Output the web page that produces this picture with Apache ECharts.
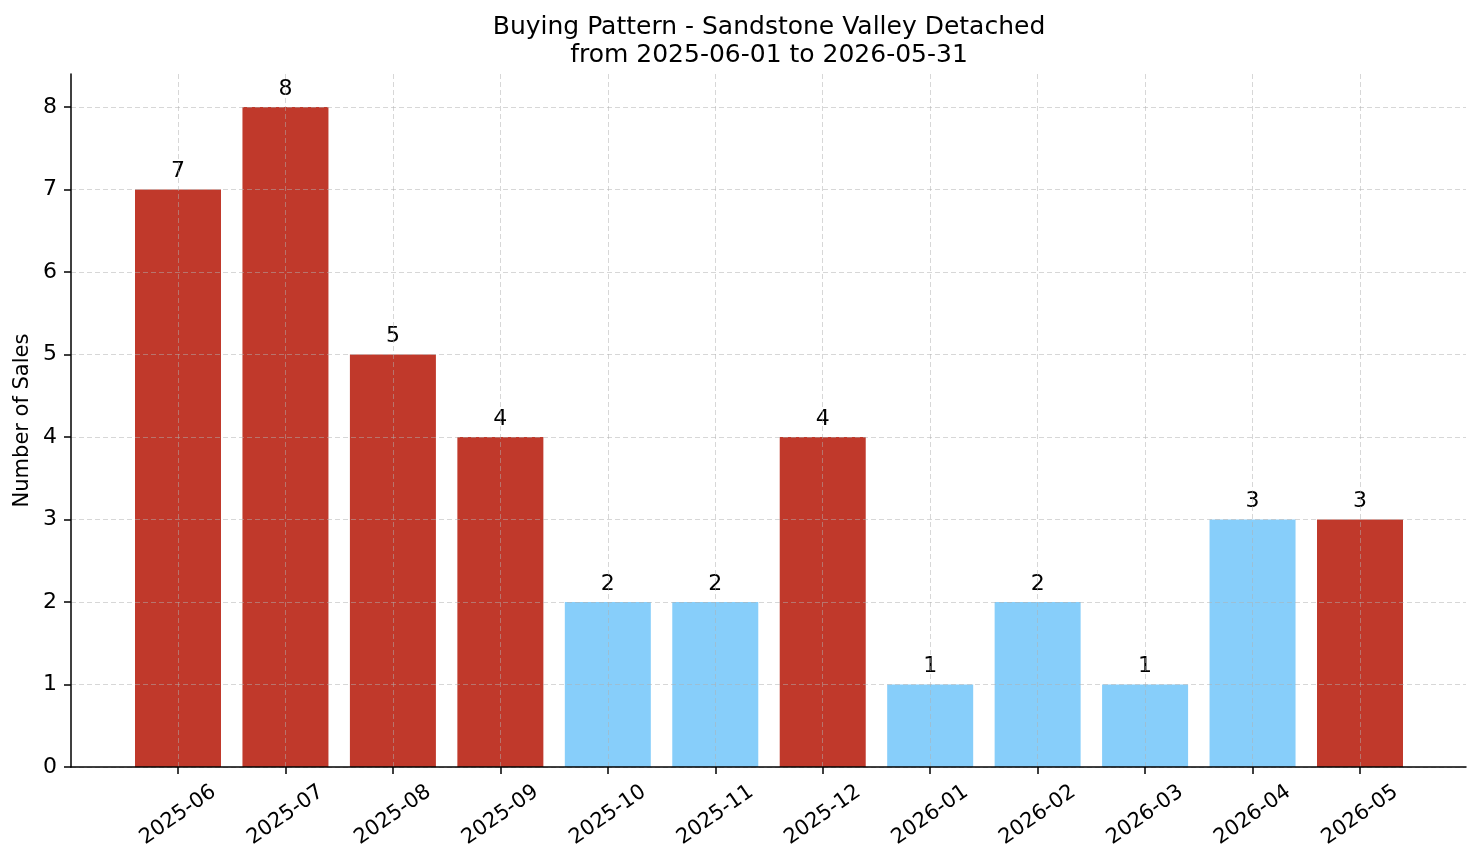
<!DOCTYPE html>
<html>
<head>
<meta charset="utf-8">
<script src="https://cdn.jsdelivr.net/npm/echarts@6/dist/echarts.min.js"></script>
<style>
html, body { margin: 0; padding: 0; background: #fff; }
#chart { width: 1481px; height: 863px; }
</style>
</head>
<body>
<div id="chart"></div>
<script>
// data
var months = ['2025-06', '2025-07', '2025-08', '2025-09', '2025-10', '2025-11',
	'2025-12', '2026-01', '2026-02', '2026-03', '2026-04', '2026-05'];
var sales = [7, 8, 5, 4, 2, 2, 4, 1, 2, 1, 3, 3];
var isHot = [true, true, true, true, false, false, true, false, false, false, false, true];
var yTickMax = 8;
var yRangeMax = 8.4;

var FONT = 'DejaVu Sans';
var RED = '#c0392b', BLUE = '#87cefa';
var gridLine = {show: true, lineStyle: {color: 'rgba(176,176,176,0.5)', width: 1, type: [5, 3]}};

var chart = echarts.init(document.getElementById('chart'));

var barData = sales.map(function (v, i) {
	return {value: v, itemStyle: {color: isHot[i] ? RED : BLUE}};
});

var option = {
	animation: false,
	textStyle: {fontFamily: FONT},
	title: {
		text: 'Buying Pattern - Sandstone Valley Detached\nfrom 2025-06-01 to 2026-05-31',
		left: 764,
		top: 8,
		textAlign: 'center',
		textStyle: {fontFamily: FONT, fontSize: 25, fontWeight: 'normal', color: '#000', lineHeight: 28}
	},
	grid: [
		// spines
		{left: 71, right: 15, top: 74, bottom: 96, outerBoundsMode: 'none'},
		// bars + category axis
		{left: 178, right: 121, top: 74, bottom: 96, outerBoundsMode: 'none'},
		// y ticks and horizontal grid
		{left: 71, right: 15, top: 107, bottom: 96, outerBoundsMode: 'none'}
	],
	xAxis: [
		{
			gridIndex: 0, type: 'value', min: 0, max: 1, z: 4,
			axisLine: {show: true, lineStyle: {color: '#000', width: 1.5}},
			axisTick: {show: false}, axisLabel: {show: false}, splitLine: {show: false}
		},
		{
			gridIndex: 1, type: 'category', data: months, boundaryGap: false, z: 3,
			axisLine: {show: false},
			axisTick: {show: true, length: 7, lineStyle: {color: '#000', width: 1.5}},
			axisLabel: {
				interval: 0, rotate: 35, align: 'center', verticalAlign: 'middle', margin: 48,
				fontFamily: FONT, fontSize: 21, color: '#000'
			},
			splitLine: gridLine
		},
		{gridIndex: 2, type: 'value', show: false}
	],
	yAxis: [
		{
			gridIndex: 0, type: 'value', min: 0, max: 1, z: 4,
			axisLine: {show: true, lineStyle: {color: '#000', width: 1.5}},
			axisTick: {show: false}, axisLabel: {show: false}, splitLine: {show: false},
			name: 'Number of Sales', nameLocation: 'middle', nameRotate: 90, nameGap: 38,
			nameTextStyle: {fontFamily: FONT, fontSize: 21, color: '#000'}
		},
		{gridIndex: 1, type: 'value', min: 0, max: yRangeMax, show: false},
		{
			gridIndex: 2, type: 'value', min: 0, max: yTickMax, interval: 1, z: 3,
			axisLine: {show: false},
			axisTick: {show: true, length: 7, lineStyle: {color: '#000', width: 1.5}},
			axisLabel: {margin: 14, fontFamily: FONT, fontSize: 22, color: '#000'},
			splitLine: gridLine
		}
	],
	series: [{
		type: 'bar',
		xAxisIndex: 1,
		yAxisIndex: 1,
		barWidth: 86,
		clip: false,
		data: barData,
		label: {show: true, position: 'top', distance: 7, fontFamily: FONT, fontSize: 22, color: '#000'}
	}]
};
chart.setOption(option);
</script>
</body>
</html>
